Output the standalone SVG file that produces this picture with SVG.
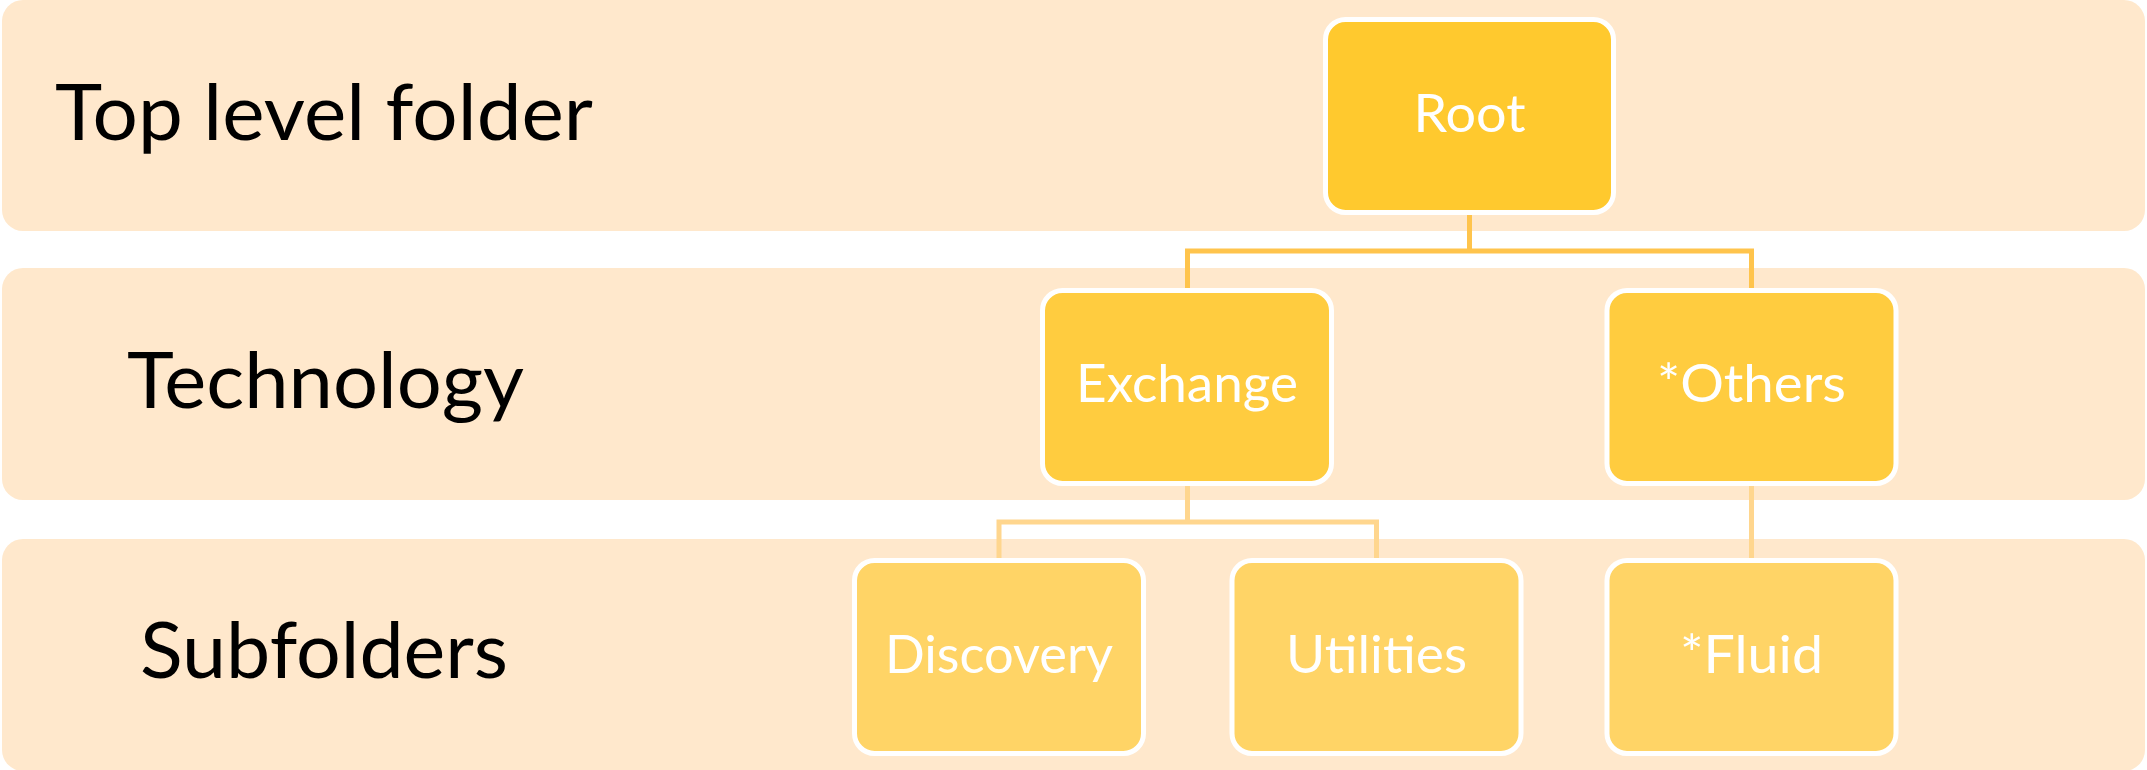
<svg xmlns="http://www.w3.org/2000/svg" width="2147" height="770" viewBox="0 0 2147 770">
<style>
.band{fill:#FFE8CC}
.lbl{font-family:Lato,"Open Sans","Liberation Sans",sans-serif;font-size:77px;fill:#000}
.n1{fill:#FFC92E;stroke:#FFFFFF;stroke-width:5}
.n2{fill:#FFCC3F;stroke:#FFFFFF;stroke-width:5}
.n3{fill:#FFD466;stroke:#FFFFFF;stroke-width:5}
.nt{font-family:Lato,"Open Sans","Liberation Sans",sans-serif;font-size:53px;fill:#FFFFFF;text-anchor:middle}
.c1{fill:none;stroke:#FFC44C;stroke-width:5}
.c2{fill:none;stroke:#FFD68E;stroke-width:5}
</style>
<rect width="2147" height="770" fill="#FFFFFF"/>
<g id="bands">
<rect class="band" x="2" y="0" width="2143" height="231" rx="21"/>
<rect class="band" x="2" y="268" width="2143" height="232" rx="21"/>
<rect class="band" x="2" y="539" width="2143" height="232" rx="21"/>
</g>
<g id="labels">
<text class="lbl" x="55" y="140" textLength="538" lengthAdjust="spacingAndGlyphs">Top level folder</text>
<text class="lbl" x="127" y="408" textLength="397" lengthAdjust="spacingAndGlyphs">Technology</text>
<text class="lbl" x="140" y="678" textLength="368" lengthAdjust="spacingAndGlyphs">Subfolders</text>
</g>
<g id="connectors">
<path class="c1" d="M1469.5 212 V251 M1187.5 288 V251 H1751.5 V288"/>
<path class="c2" d="M1187.5 484 V522 M999 558 V522 H1376.5 V558"/>
<path class="c2" d="M1751.5 484 V558"/>
</g>
<g id="root">
<rect class="n1" x="1325.5" y="19.5" width="288" height="193" rx="20"/>
<text class="nt" x="1469.5" y="132" textLength="112" lengthAdjust="spacingAndGlyphs">Root</text>
</g>
<g id="exchange">
<rect class="n2" x="1042.5" y="290.5" width="289" height="193" rx="20"/>
<text class="nt" x="1187" y="402" textLength="222" lengthAdjust="spacingAndGlyphs">Exchange</text>
</g>
<g id="others">
<rect class="n2" x="1607" y="290.5" width="289" height="193" rx="20"/>
<text class="nt" x="1751.5" y="402" textLength="189" lengthAdjust="spacingAndGlyphs">*Others</text>
</g>
<g id="discovery">
<rect class="n3" x="854.5" y="560.5" width="289" height="193" rx="20"/>
<text class="nt" x="999" y="673" textLength="228" lengthAdjust="spacingAndGlyphs">Discovery</text>
</g>
<g id="utilities">
<rect class="n3" x="1232" y="560.5" width="289" height="193" rx="20"/>
<text class="nt" x="1376.5" y="673" textLength="181" lengthAdjust="spacingAndGlyphs">Utilities</text>
</g>
<g id="fluid">
<rect class="n3" x="1607" y="560.5" width="289" height="193" rx="20"/>
<text class="nt" x="1751.5" y="673" textLength="143" lengthAdjust="spacingAndGlyphs">*Fluid</text>
</g>
</svg>
